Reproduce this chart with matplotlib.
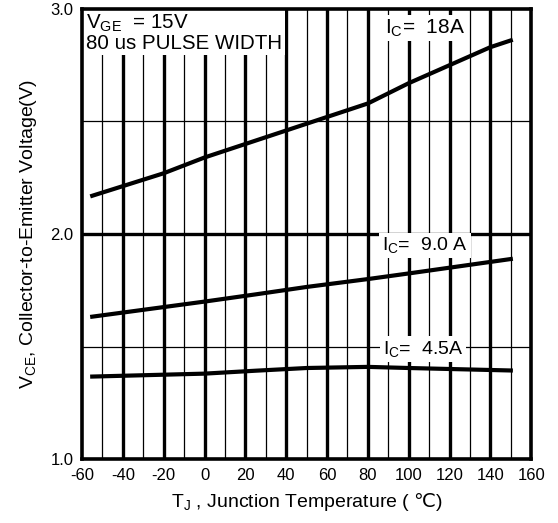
import matplotlib.pyplot as plt
import numpy as np

plt.rcParams['font.family'] = ['Liberation Sans', 'DejaVu Sans']
plt.rcParams['mathtext.fontset'] = 'custom'
plt.rcParams['mathtext.rm'] = 'Liberation Sans'
plt.rcParams['mathtext.sf'] = 'DejaVu Sans'

# data
temp_18 = [-55, -20, 0, 20, 40, 60, 80, 100, 120, 140, 150]
vce_18 = [2.17, 2.27, 2.34, 2.40, 2.46, 2.52, 2.58, 2.67, 2.75, 2.83, 2.86]

temp_9 = [-55, 0, 25, 50, 80, 100, 150]
vce_9 = [1.633, 1.70, 1.732, 1.765, 1.80, 1.825, 1.889]

temp_45 = [-55, 0, 25, 50, 80, 100, 150]
vce_45 = [1.367, 1.38, 1.393, 1.405, 1.41, 1.405, 1.394]

xticks = [-60, -40, -20, 0, 20, 40, 60, 80, 100, 120, 140, 160]
yticks = [1.0, 2.0, 3.0]

fig = plt.figure(figsize=(5.58, 5.23), dpi=100)
ax = fig.add_axes([0.147, 0.122, 0.805, 0.861])

# grid
for x in range(-50, 160, 10):
    lw = 2.4 if x % 20 == 0 else 0.9
    ax.axvline(x, color='black', lw=lw, zorder=1)
ax.axhline(2.0, color='black', lw=2.4, zorder=1)
ax.axhline(1.5, color='black', lw=0.9, zorder=1)
ax.axhline(2.5, color='black', lw=0.9, zorder=1)

ax.plot(temp_18, vce_18, color='black', lw=3, zorder=3)
ax.plot(temp_9, vce_9, color='black', lw=3, zorder=3)
ax.plot(temp_45, vce_45, color='black', lw=3, zorder=3)

ax.set_xlim(-60, 160)
ax.set_ylim(1.0, 3.0)
ax.set_xticks(xticks)
ax.set_xticklabels([str(t) for t in xticks])
ax.set_yticks(yticks)
ax.set_yticklabels(['1.0', '2.0', '3.0'])
ax.tick_params(length=0, labelsize=12, pad=6)
for s in ax.spines.values():
    s.set_linewidth(2.6)
    s.set_zorder(5)

box = dict(facecolor='white', edgecolor='none', pad=2)
ax.text(-58, 2.985, '$\\mathregular{V_{GE}}$  = 15V\n80 us PULSE WIDTH', fontsize=14.8,
        va='top', ha='left', bbox=box, zorder=4, linespacing=1.0)
ax.text(108, 2.915, '$\\mathregular{I_C}$=  18A', fontsize=15, va='center', ha='center',
        bbox=box, zorder=4)
ax.text(108, 1.95, '$\\mathregular{I_C}$=  9.0 A', fontsize=14, va='center', ha='center',
        bbox=box, zorder=4)
ax.text(107, 1.49, '$\\mathregular{I_C}$=  4.5A', fontsize=14, va='center', ha='center',
        bbox=box, zorder=4)

ax.set_xlabel('$\\mathregular{T_J}$ , Junction Temperature ( $\\mathsf{℃}$)', fontsize=14, labelpad=6)
ax.set_ylabel('$\\mathregular{V_{CE}}$, Collector-to-Emitter Voltage(V)', fontsize=14, labelpad=8)

fig.savefig('out.png', dpi=100)
